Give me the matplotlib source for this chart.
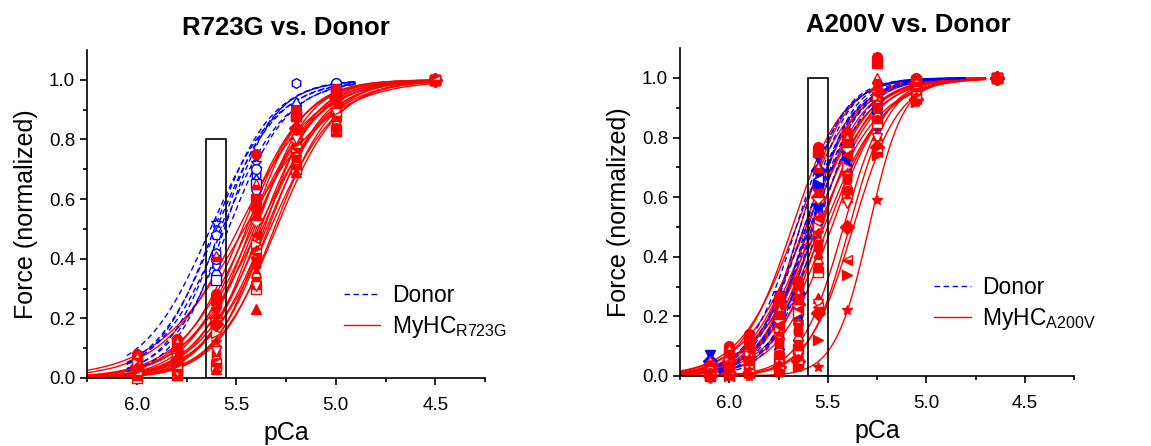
import numpy as np
import matplotlib
matplotlib.use("Agg")
import matplotlib.pyplot as plt
from matplotlib.patches import Rectangle

plt.rcParams['font.family'] = ['Liberation Sans', 'DejaVu Sans']

# ---- data: R723G panel ----
pca_r723g = [6.0, 5.8, 5.6, 5.4, 5.2, 5.0, 4.5]

donor_l_pca50 = [5.63, 5.61, 5.60, 5.58, 5.57, 5.56, 5.54]
donor_l_nh = [2.6, 3.0, 2.8, 3.2, 2.7, 3.4, 2.9]
donor_l_pts = [
    [0.03, 0.10, 0.52, 0.72, 0.90, 0.98, 1.0],
    [0.02, 0.07, 0.48, 0.70, 0.91, 0.98, 1.0],
    [0.04, 0.09, 0.42, 0.68, 0.99, 0.99, 1.0],
    [0.02, 0.08, 0.38, 0.66, 0.92, 0.98, 1.0],
    [0.03, 0.06, 0.35, 0.63, 0.89, 0.97, 1.0],
    [0.01, 0.05, 0.40, 0.70, 0.90, 0.99, 1.0],
    [0.02, 0.04, 0.33, 0.65, 0.88, 0.97, 1.0],
]

r723g_pca50 = [5.49, 5.47, 5.46, 5.45, 5.44, 5.43, 5.42, 5.41, 5.40,
               5.39, 5.38, 5.37, 5.36, 5.35, 5.34, 5.33, 5.31, 5.30]
r723g_nh = [2.3, 2.8, 2.0, 3.0, 2.5, 3.2, 2.6, 2.9, 3.3,
            2.4, 3.0, 2.7, 3.4, 2.8, 3.1, 2.6, 3.0, 2.8]
r723g_pts = [
    [0.08, 0.13, 0.28, 0.75, 0.90, 0.97, 1.0],
    [0.06, 0.11, 0.26, 0.60, 0.88, 0.96, 1.0],
    [0.07, 0.12, 0.41, 0.65, 0.85, 0.95, 1.0],
    [0.05, 0.10, 0.22, 0.55, 0.82, 0.93, 1.0],
    [0.04, 0.09, 0.20, 0.53, 0.80, 0.92, 1.0],
    [0.03, 0.08, 0.25, 0.48, 0.78, 0.91, 1.0],
    [0.05, 0.07, 0.15, 0.45, 0.76, 0.90, 1.0],
    [0.02, 0.05, 0.12, 0.43, 0.75, 0.90, 1.0],
    [0.03, 0.04, 0.10, 0.40, 0.74, 0.88, 1.0],
    [0.02, 0.03, 0.08, 0.38, 0.73, 0.87, 1.0],
    [0.01, 0.03, 0.07, 0.35, 0.72, 0.86, 1.0],
    [0.02, 0.02, 0.06, 0.34, 0.71, 0.85, 1.0],
    [0.01, 0.02, 0.05, 0.32, 0.70, 0.84, 1.0],
    [0.00, 0.01, 0.04, 0.30, 0.70, 0.83, 1.0],
    [0.01, 0.01, 0.03, 0.23, 0.69, 0.83, 1.0],
    [0.02, 0.02, 0.09, 0.31, 0.80, 0.89, 1.0],
    [0.03, 0.06, 0.18, 0.57, 0.84, 0.94, 1.0],
    [0.01, 0.03, 0.05, 0.42, 0.77, 0.88, 1.0],
]

# ---- data: A200V panel ----
pca_a200v = [6.1, 6.0, 5.9, 5.75, 5.65, 5.55, 5.4, 5.25, 5.05, 4.64]

donor_r_pca50 = [5.66, 5.64, 5.62, 5.61, 5.60, 5.59, 5.58, 5.57, 5.55]
donor_r_nh = [3.6, 4.0, 3.4, 4.2, 3.8, 3.5, 4.4, 3.9, 3.7]
donor_r_pts = [
    [0.07, 0.06, 0.10, 0.27, 0.30, 0.73, 0.80, 0.95, 0.99, 1.0],
    [0.05, 0.05, 0.09, 0.25, 0.28, 0.69, 0.78, 0.93, 0.99, 1.0],
    [0.04, 0.04, 0.08, 0.22, 0.26, 0.66, 0.76, 0.92, 0.98, 1.0],
    [0.03, 0.04, 0.07, 0.20, 0.24, 0.64, 0.74, 0.90, 0.98, 1.0],
    [0.02, 0.03, 0.06, 0.18, 0.22, 0.60, 0.72, 0.89, 0.97, 1.0],
    [0.02, 0.03, 0.05, 0.15, 0.20, 0.57, 0.70, 0.88, 0.97, 1.0],
    [0.01, 0.02, 0.04, 0.13, 0.18, 0.52, 0.68, 0.86, 0.96, 1.0],
    [0.01, 0.02, 0.03, 0.11, 0.15, 0.45, 0.66, 0.85, 0.96, 1.0],
    [0.01, 0.01, 0.03, 0.09, 0.12, 0.36, 0.63, 0.84, 0.95, 1.0],
]

a200v_pca50 = [5.68, 5.66, 5.64, 5.62, 5.61, 5.60, 5.59, 5.58, 5.57, 5.56,
               5.55, 5.54, 5.53, 5.52, 5.50, 5.48, 5.42, 5.39, 5.37, 5.29]
a200v_nh = [3.4, 3.0, 3.8, 3.2, 2.8, 3.6, 3.0, 3.4, 2.9, 3.3,
            2.7, 3.1, 3.5, 2.8, 3.0, 3.2, 4.0, 4.2, 3.8, 5.0]
a200v_pts = [
    [0.04, 0.10, 0.14, 0.27, 0.32, 0.77, 0.82, 1.07, 1.00, 1.0],
    [0.03, 0.08, 0.12, 0.24, 0.30, 0.75, 0.81, 1.05, 0.99, 1.0],
    [0.05, 0.09, 0.11, 0.22, 0.28, 0.70, 0.80, 1.00, 1.00, 1.0],
    [0.02, 0.06, 0.10, 0.20, 0.25, 0.61, 0.78, 0.97, 0.99, 1.0],
    [0.03, 0.05, 0.09, 0.19, 0.24, 0.60, 0.77, 0.96, 0.98, 1.0],
    [0.02, 0.04, 0.08, 0.17, 0.22, 0.53, 0.74, 0.95, 0.99, 1.0],
    [0.01, 0.05, 0.07, 0.15, 0.21, 0.50, 0.70, 0.93, 0.98, 1.0],
    [0.02, 0.03, 0.06, 0.14, 0.18, 0.48, 0.68, 0.92, 0.97, 1.0],
    [0.01, 0.04, 0.05, 0.12, 0.17, 0.45, 0.67, 0.91, 0.98, 1.0],
    [0.02, 0.02, 0.05, 0.11, 0.15, 0.43, 0.66, 0.90, 0.97, 1.0],
    [0.01, 0.03, 0.04, 0.10, 0.14, 0.40, 0.65, 0.89, 0.96, 1.0],
    [0.02, 0.02, 0.03, 0.08, 0.12, 0.38, 0.63, 0.87, 0.96, 1.0],
    [0.01, 0.01, 0.04, 0.07, 0.10, 0.36, 0.62, 0.86, 0.95, 1.0],
    [0.00, 0.02, 0.03, 0.06, 0.09, 0.35, 0.61, 0.85, 0.95, 1.0],
    [0.01, 0.01, 0.02, 0.05, 0.08, 0.26, 0.60, 0.81, 0.94, 1.0],
    [0.00, 0.01, 0.02, 0.04, 0.07, 0.24, 0.58, 0.80, 0.94, 1.0],
    [0.00, 0.01, 0.01, 0.03, 0.05, 0.21, 0.50, 0.77, 0.93, 1.0],
    [0.00, 0.00, 0.01, 0.02, 0.04, 0.23, 0.39, 0.75, 0.93, 1.0],
    [0.00, 0.00, 0.01, 0.02, 0.03, 0.12, 0.34, 0.74, 0.92, 1.0],
    [0.00, 0.00, 0.00, 0.01, 0.03, 0.03, 0.22, 0.59, 0.92, 1.0],
]

MARKERS = ['o', 's', '^', 'v', 'D', '<', '>', '*', 'p', 'h', 'd', 'H']
RED_FILLS = ['full', 'full', 'bottom', 'full', 'top', 'full', 'none', 'full', 'bottom']


def hill(p, p50, nh):
    return 1.0 / (1.0 + 10 ** (nh * (p - p50)))


def draw_fits(ax, p50s, nhs, color, dashed, xr):
    xs = np.linspace(xr[0], xr[1], 300)
    for p50, nh in zip(p50s, nhs):
        if dashed:
            ax.plot(xs, hill(xs, p50, nh), color=color, lw=1.0, dashes=(4, 2.5), zorder=2)
        else:
            ax.plot(xs, hill(xs, p50, nh), color=color, lw=1.0, zorder=2)


def draw_points(ax, pca, pts, color, offset, fills, z):
    for i, row in enumerate(pts):
        fs = fills[i % len(fills)]
        kw = dict(marker=MARKERS[(i + offset) % len(MARKERS)], ls='none', ms=7,
                  color=color, mec=color, mew=1.0, clip_on=False, zorder=z)
        if fs == 'none':
            kw.update(mfc='white')
        elif fs in ('top', 'bottom'):
            kw.update(fillstyle=fs, mfc=color, markerfacecoloralt='white')
        ax.plot(pca, row, **kw)


def style_axes(ax):
    ax.set_xlim(6.25, 4.25)
    ax.set_ylim(0, 1.1)
    ax.set_xticks([6.0, 5.5, 5.0, 4.5])
    ax.set_xticks([6.25, 5.75, 5.25, 4.75, 4.25], minor=True)
    ax.set_yticks(np.arange(0, 1.01, 0.2))
    ax.set_yticks(np.arange(0.1, 1.1, 0.2), minor=True)
    ax.yaxis.set_major_formatter(plt.FormatStrFormatter('%.1f'))
    ax.spines['top'].set_visible(False)
    ax.spines['right'].set_visible(False)
    for s in ('left', 'bottom'):
        ax.spines[s].set_linewidth(1.2)
    ax.tick_params(which='major', direction='out', length=5, width=1.2, labelsize=13.5)
    ax.tick_params(which='minor', direction='out', length=3, width=1.2)
    ax.tick_params(axis='x', which='major', pad=9)
    ax.set_xlabel('pCa', fontsize=18, labelpad=5)
    ax.set_ylabel('Force (normalized)', fontsize=18, labelpad=8)


fig = plt.figure(figsize=(11.51, 4.46), dpi=100)
ax1 = fig.add_axes([0.0756, 0.1525, 0.3458, 0.7354])
ax2 = fig.add_axes([0.5908, 0.157, 0.3423, 0.735])

# left panel
draw_fits(ax1, r723g_pca50, r723g_nh, 'red', False, (6.25, 4.5))
draw_fits(ax1, donor_l_pca50, donor_l_nh, 'blue', True, (6.05, 4.9))
draw_points(ax1, pca_r723g, donor_l_pts, 'blue', 7, ['none'], 3)
draw_points(ax1, pca_r723g, r723g_pts, 'red', 0, RED_FILLS, 4)
ax1.add_patch(Rectangle((5.65, 0), -0.1, 0.8, fill=False, ec='black', lw=1.2, zorder=5))
style_axes(ax1)
ax1.set_title('R723G vs. Donor', fontsize=18.5, fontweight='bold', pad=11)
h1 = ax1.plot([], [], color='blue', lw=1.0, dashes=(4, 2.5), label='Donor')[0]
h2 = ax1.plot([], [], color='red', lw=1.0, label=r'MyHC$_{\mathregular{R723G}}$')[0]
ax1.legend(handles=[h1, h2], loc='center left', bbox_to_anchor=(0.645, 0.2), frameon=False,
           fontsize=16.5, handlelength=1.6, handletextpad=0.5, labelspacing=0.3,
           borderpad=0, borderaxespad=0)

# right panel
draw_fits(ax2, a200v_pca50, a200v_nh, 'red', False, (6.25, 4.7))
draw_fits(ax2, donor_r_pca50, donor_r_nh, 'blue', True, (6.1, 4.8))
draw_points(ax2, pca_a200v, donor_r_pts, 'blue', 3, ['full', 'full', 'none', 'full'], 3)
draw_points(ax2, pca_a200v, a200v_pts, 'red', 0, RED_FILLS, 4)
ax2.add_patch(Rectangle((5.6, 0), -0.1, 1.0, fill=False, ec='black', lw=1.2, zorder=5))
style_axes(ax2)
ax2.set_title('A200V vs. Donor', fontsize=18.5, fontweight='bold', pad=12, x=0.58)
g1 = ax2.plot([], [], color='blue', lw=1.0, dashes=(4, 2.5), label='Donor')[0]
g2 = ax2.plot([], [], color='red', lw=1.0, label=r'MyHC$_{\mathregular{A200V}}$')[0]
ax2.legend(handles=[g1, g2], loc='center left', bbox_to_anchor=(0.645, 0.22), frameon=False,
           fontsize=16.5, handlelength=1.6, handletextpad=0.5, labelspacing=0.3,
           borderpad=0, borderaxespad=0)

fig.savefig('out.png', dpi=100)
